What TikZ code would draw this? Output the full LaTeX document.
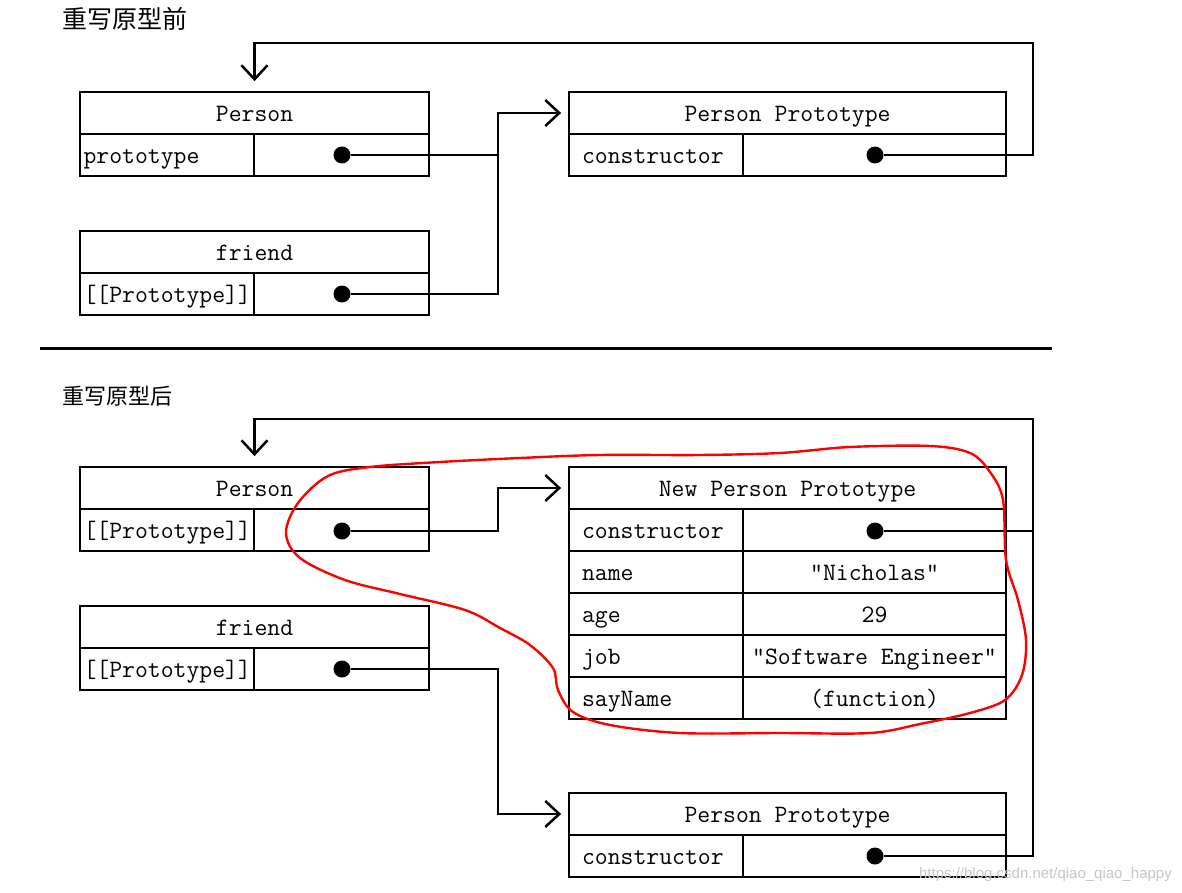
\documentclass[tikz,border=0pt]{standalone}
\usepackage{fontspec}
\setsansfont{Liberation Sans}
\newfontfamily\cjk{Noto Sans CJK SC}
\usetikzlibrary{arrows.meta,calc}
\begin{document}
\begin{tikzpicture}[x=1pt,y=-1pt,
  cell/.style={draw, line width=1.8pt, minimum height=42pt, inner sep=0pt,
    font=\ttfamily\fontsize{25}{28}\selectfont, text height=17pt, text depth=0pt},
  hdr/.style={cell, minimum width=#1},
  lcell/.style={cell, text width=167pt, inner xsep=3.5pt, align=left},
  plcell/.style={cell, text width=148pt, inner xsep=13pt, align=left},
  rcell/.style={cell, minimum width=#1},
  dot/.style={circle, fill=black, inner sep=0pt, minimum size=17pt},
  conn/.style={line width=2.5pt},
  arr/.style={conn, -{Straight Barb[length=14pt,width=26pt,line width=2.5pt]}},
  title/.style={anchor=west, inner sep=0pt},
]
\useasboundingbox (0,0) rectangle (1182,893);

% titles
\node[title, font=\cjk\fontsize{25}{27}\selectfont] (t1) at (62,19) {重写原型前};
\node[title, font=\cjk\fontsize{22}{24}\selectfont] (t2) at (62,396) {重写原型后};

% separator
\coordinate (sepL) at (40,348);
\coordinate (sepR) at (1052,348);
\draw[line width=3pt] (sepL) -- (sepR);

% ---------- before ----------
\node[hdr=349pt] (p1h) at (254.5,113) {Person};
\node[lcell] (p1l) at (167,155) {prototype};
\node[rcell=175pt] (p1r) at (341.5,155) {};
\node[dot] (p1d) at (342,155) {};

\node[hdr=349pt] (f1h) at (254.5,252) {friend};
\node[lcell] (f1l) at (167,294) {[[Prototype]]};
\node[rcell=175pt] (f1r) at (341.5,294) {};
\node[dot] (f1d) at (342,294) {};

\node[hdr=437pt] (pp1h) at (787.5,113) {Person Prototype};
\node[plcell] (pp1l) at (656,155) {constructor};
\node[rcell=263pt] (pp1r) at (874.5,155) {};
\node[dot] (pp1d) at (875,155) {};

\coordinate (j1) at (498,113);
\coordinate (c1) at (1033,43);
\draw[conn] (p1d) -- (p1d -| j1);
\draw[arr] (f1d) -| (j1) -- ([xshift=-7pt]pp1h.west);
\draw[arr] (pp1d) -| (c1) -| ([yshift=10pt]p1h.north);

% ---------- after ----------
\node[hdr=349pt] (p2h) at (254.5,488) {Person};
\node[lcell] (p2l) at (167,530) {[[Prototype]]};
\node[rcell=175pt] (p2r) at (341.5,530) {};
\node[dot] (p2d) at (342,531) {};

\node[hdr=349pt] (f2h) at (254.5,627) {friend};
\node[lcell] (f2l) at (167,669) {[[Prototype]]};
\node[rcell=175pt] (f2r) at (341.5,669) {};
\node[dot] (f2d) at (342,669) {};

\node[hdr=437pt] (nph) at (787.5,488) {New Person Prototype};
\node[plcell] (npl1) at (656,530) {constructor};
\node[rcell=263pt] (npr1) at (874.5,530) {};
\node[dot] (npd) at (875,531) {};
\node[plcell] (npl2) at (656,572) {name};
\node[rcell=263pt] (npr2) at (874.5,572) {"Nicholas"};
\node[plcell] (npl3) at (656,614) {age};
\node[rcell=263pt] (npr3) at (874.5,614) {29};
\node[plcell] (npl4) at (656,656) {job};
\node[rcell=263pt] (npr4) at (874.5,656) {"Software Engineer"};
\node[plcell] (npl5) at (656,698) {sayName};
\node[rcell=263pt] (npr5) at (874.5,698) {(function)};

\node[hdr=437pt] (pp2h) at (787.5,814) {Person Prototype};
\node[plcell] (pp2l) at (656,856) {constructor};
\node[rcell=263pt] (pp2r) at (874.5,856) {};
\node[dot] (pp2d) at (875,856) {};

\coordinate (j2) at (498,488);
\coordinate (j3) at (498,814);
\coordinate (c2) at (1033,419);
\draw[arr] (p2d) -| (j2) -- ([xshift=-7pt]nph.west);
\draw[arr] (f2d) -| (j3) -- ([xshift=-7pt]pp2h.west);
\draw[conn] (npd) -- (npd -| c2);
\draw[arr] (pp2d) -| (c2) -| ([yshift=10pt]p2h.north);

% red freehand loop
\draw[red, line width=2.4pt] plot[smooth cycle, tension=0.55] coordinates {
 (298,503) (328,476) (370,467) (440,462) (520,458) (600,455) (700,455) (780,453)
 (850,447) (930,446) (970,453) (990,472) (1003,500) (1006,560) (1018,600)
 (1026,640) (1022,675) (1005,700) (970,713) (920,724) (870,733) (780,733)
 (680,733) (610,725) (573,712) (558,690) (553,668) (530,645) (500,628)
 (465,610) (400,594) (345,580) (300,558) (286,533)};

% watermark
\node[anchor=east, inner sep=0pt, text=gray!45, font=\sffamily\fontsize{15}{17}\selectfont] (wm) at (1172,875) {https://blog.csdn.net/qiao\_qiao\_happy};
\end{tikzpicture}
\end{document}
